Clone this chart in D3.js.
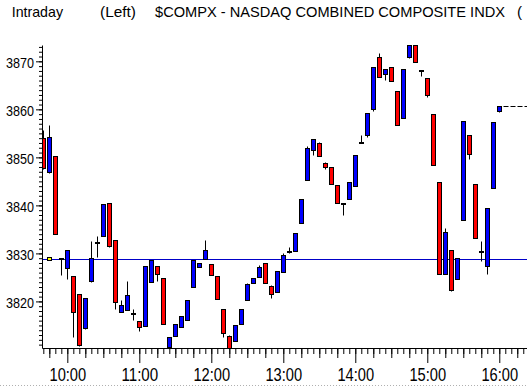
<!DOCTYPE html>
<html>
<head>
<meta charset="utf-8">
<script src="https://cdn.jsdelivr.net/npm/d3@7"></script>
<style>
	body { margin: 0; background: #fff; }
	svg { display: block; }
	text { font-family: "Liberation Sans", "DejaVu Sans", sans-serif; fill: #000; }
</style>
</head>
<body>
<script>
let times = [
	'9:40','9:45','9:50','9:55','10:00','10:05','10:10','10:15','10:20','10:25','10:30','10:35',
	'10:40','10:45','10:50','10:55','11:00','11:05','11:10','11:15','11:20','11:25','11:30','11:35',
	'11:40','11:45','11:50','11:55','12:00','12:05','12:10','12:15','12:20','12:25','12:30','12:35',
	'12:40','12:45','12:50','12:55','13:00','13:05','13:10','13:15','13:20','13:25','13:30','13:35',
	'13:40','13:45','13:50','13:55','14:00','14:05','14:10','14:15','14:20','14:25','14:30','14:35',
	'14:40','14:45','14:50','14:55','15:00','15:05','15:10','15:15','15:20','15:25','15:30','15:35',
	'15:40','15:45','15:50','15:55','16:00'
];
let open = [
	3854.0,3846.9,3850.3,3829.0,3826.9,3825.3,3821.5,3814.4,3824.2,3832.3,3833.6,3840.4,
	3832.7,3817.8,3818.2,3817.5,3816.0,3814.9,3824.1,3827.4,3824.8,3810.6,3812.8,3814.7,
	3816.1,3823.1,3827.1,3828.75,3827.8,3825.3,3818.5,3812.8,3811.8,3815.2,3820.3,3823.9,
	3825.1,3827.9,3823.2,3821.9,3826.2,3830.6,3830.6,3836.3,3845.3,3851.6,3852.9,3848.75,
	3847.9,3844.2,3840.6,3841.3,3844.0,3853.1,3854.7,3860.1,3871.0,3867.4,3868.75,3863.75,
	3858.2,3870.8,3873.3,3868.2,3866.5,3859.0,3844.8,3825.8,3830.8,3824.7,3837.0,3854.6,
	3844.4,3830.6,3827.3,3843.7,3859.6
];
let high = [
	3855.7,3856.7,3850.3,3829.0,3830.8,3825.3,3821.5,3820.8,3832.6,3833.6,3840.3,3840.4,
	3832.7,3820.4,3824.2,3818.5,3816.0,3827.4,3828.6,3827.4,3824.8,3812.5,3815.3,3816.9,
	3820.4,3828.6,3827.9,3832.8,3827.8,3825.3,3818.5,3813.0,3815.1,3818.4,3823.9,3824.8,
	3827.5,3827.9,3823.5,3826.3,3830.0,3831.25,3834.2,3841.25,3852.3,3853.8,3853.3,3849.0,
	3847.9,3844.2,3840.6,3844.8,3850.4,3854.6,3859.2,3868.75,3871.7,3868.5,3868.75,3863.75,
	3868.5,3873.3,3873.3,3868.2,3866.5,3859.0,3844.8,3835.3,3830.8,3829.0,3857.5,3854.6,
	3844.4,3832.6,3839.4,3857.3,3860.8
];
let low = [
	3847.5,3846.7,3834.0,3825.5,3824.6,3812.6,3810.8,3814.2,3824.0,3829.3,3833.6,3831.4,
	3818.5,3817.8,3818.2,3816.1,3813.9,3814.9,3824.1,3824.2,3815.2,3810.0,3812.8,3814.7,
	3816.1,3823.1,3827.1,3828.75,3825.6,3820.6,3812.6,3810.1,3811.8,3815.2,3820.3,3823.9,
	3825.1,3823.9,3820.8,3821.9,3826.2,3830.0,3830.6,3836.3,3845.3,3850.4,3850.3,3847.6,
	3844.5,3840.4,3838.05,3841.3,3844.0,3852.9,3854.2,3859.6,3866.7,3866.2,3865.8,3856.8,
	3858.2,3870.6,3869.8,3866.9,3862.6,3848.5,3825.7,3825.8,3822.1,3824.7,3837.0,3849.7,
	3833.2,3828.5,3825.7,3843.7,3859.4
];
let close = [
	3847.7,3854.2,3834.1,3829.0,3830.8,3817.8,3810.9,3820.8,3829.0,3832.3,3840.3,3831.6,
	3819.9,3819.2,3821.3,3817.5,3814.7,3827.4,3828.6,3825.8,3815.2,3812.5,3815.3,3816.9,
	3820.4,3828.6,3827.9,3830.7,3825.6,3820.6,3813.5,3810.1,3815.1,3818.4,3823.6,3824.8,
	3827.2,3823.9,3821.5,3826.3,3829.65,3830.6,3834.2,3841.25,3851.9,3853.8,3850.3,3847.9,
	3844.5,3840.4,3840.6,3844.8,3850.4,3853.1,3859.2,3868.75,3866.7,3868.5,3865.8,3856.8,
	3868.5,3873.3,3869.8,3868.2,3862.9,3848.5,3825.7,3834.4,3822.35,3829.0,3857.5,3850.8,
	3833.2,3830.6,3839.4,3857.3,3860.8
];
let prevClose = 3828.75;
let prevCloseMarkAt = '9:45';
let yTicks = [3820, 3830, 3840, 3850, 3860, 3870];
let xTicks = ['10:00', '11:00', '12:00', '13:00', '14:00', '15:00', '16:00'];
let titleParts = ['Intraday', '(Left)', '$COMPX - NASDAQ COMBINED COMPOSITE INDX', '('];

function toMin(t) {
	let p = t.split(':');
	return +p[0]*60 + +p[1];
}
function fmtMin(m) {
	return Math.floor(m/60) + ':' + d3.format('02')(m%60);
}

function renderChart() {
	let width = 527, height = 386;
	let svg = d3.select('body').append('svg')
		.attr('width', width)
		.attr('height', height);

	let x = d3.scaleLinear().domain([578.9, 983.1]).range([42, 527]);
	let y = d3.scaleLinear().domain([3810.3, 3873.4]).range([348, 45]);

	// title row
	let titleX = [11.7, 100, 155, 517];
	let titleW = [51.3, 36, 350, 0];
	svg.append('g').selectAll('text')
		.data(titleParts)
		.join('text')
		.attr('x', (d, i) => titleX[i])
		.attr('y', 16.7)
		.attr('font-size', 15)
		.each(function(d, i) {
			if (titleW[i]) d3.select(this).attr('textLength', titleW[i]).attr('lengthAdjust', 'spacingAndGlyphs');
		})
		.text(d => d);

	svg.append('clipPath').attr('id', 'plot')
		.append('rect').attr('x', 43).attr('y', 0).attr('width', width - 43).attr('height', 348);

	let plot = svg.append('g').attr('clip-path', 'url(#plot)');

	//previous close line
	let yp = Math.round(y(prevClose)) + 0.5;
	plot.append('line')
		.attr('x1', 42).attr('x2', width)
		.attr('y1', yp).attr('y2', yp)
		.attr('stroke', '#0000c8')
		.attr('stroke-width', 1);

	let cx = i => Math.floor(x(toMin(times[i]))) + 0.5;
	let py = v => Math.round(y(v)) + 0.5;

	let candles = plot.append('g').selectAll('g')
		.data(times)
		.join('g');
	candles.append('line')
		.attr('x1', (d, i) => cx(i)).attr('x2', (d, i) => cx(i))
		.attr('y1', (d, i) => py(high[i]))
		.attr('y2', (d, i) => py(low[i]))
		.attr('stroke', '#000');
	candles.append('rect')
		.attr('x', (d, i) => cx(i) - 2)
		.attr('width', 4)
		.attr('y', (d, i) => py(Math.max(open[i], close[i])))
		.attr('height', (d, i) => Math.max(1, py(Math.min(open[i], close[i])) - py(Math.max(open[i], close[i]))))
		.attr('fill', (d, i) => close[i] > open[i] ? '#0000ff' : (close[i] < open[i] ? '#ff0000' : '#000'))
		.attr('stroke', '#000')
		.attr('stroke-width', 1);

	// yellow mark for previous close
	let mi = times.indexOf(prevCloseMarkAt);
	plot.append('rect')
		.attr('x', cx(mi) - 2).attr('width', 4)
		.attr('y', yp - 2).attr('height', 3)
		.attr('fill', '#ffff00')
		.attr('stroke', '#000');

	// last price dashed
	let last = times.length - 1;
	svg.append('line')
		.attr('x1', cx(last) + 4).attr('x2', width)
		.attr('y1', py(close[last])).attr('y2', py(close[last]))
		.attr('stroke', '#000')
		.attr('stroke-dasharray', '5,2');

	// y axis
	svg.append('g')
		.attr('transform', 'translate(42,0)')
		.call(d3.axisLeft(y).tickValues(d3.range(3811, 3874)).tickSize(3).tickSizeOuter(0).tickFormat(''))
		.call(g => g.selectAll('line,path').attr('stroke', '#000'));
	let ya = svg.append('g')
		.attr('transform', 'translate(42,0)')
		.call(d3.axisLeft(y).tickValues(yTicks).tickSize(6).tickSizeOuter(0).tickPadding(2).tickFormat(d3.format('d')));
	ya.select('.domain').remove();
	ya.selectAll('line').attr('stroke', '#000');
	ya.selectAll('text')
		.attr('font-size', 15)
		.attr('font-family', null)
		.attr('dy', 6)
		.attr('textLength', 28)
		.attr('lengthAdjust', 'spacingAndGlyphs');

	// x axis
	let xMajor = xTicks.map(toMin);
	let xMinor = d3.range(580, 984, 5);
	let xMid = xMinor.filter(m => m % 15 == 0 && m % 60 != 0);
	svg.append('g')
		.attr('transform', 'translate(0,348)')
		.call(d3.axisBottom(x).tickValues(xMinor).tickSize(6).tickSizeOuter(0).tickFormat(''))
		.call(g => g.selectAll('line,path').attr('stroke', '#000'));
	let xm = svg.append('g')
		.attr('transform', 'translate(0,348)')
		.call(d3.axisBottom(x).tickValues(xMid).tickSize(10).tickFormat(''));
	xm.select('.domain').remove();
	xm.selectAll('line').attr('stroke', '#000');
	let xa = svg.append('g')
		.attr('transform', 'translate(0,348)')
		.call(d3.axisBottom(x).tickValues(xMajor).tickSize(15).tickFormat(fmtMin));
	xa.select('.domain').remove();
	xa.selectAll('line').attr('stroke', '#000');
	xa.selectAll('text')
		.attr('font-size', 18)
		.attr('font-family', null)
		.attr('y', 33)
		.attr('dy', 0)
		.attr('textLength', 36.7)
		.attr('lengthAdjust', 'spacingAndGlyphs');

	// dotted bottom edge
	svg.append('line')
		.attr('x1', 0).attr('x2', width)
		.attr('y1', 385.5).attr('y2', 385.5)
		.attr('stroke', '#b0b0b0')
		.attr('stroke-dasharray', '1,2');
}
renderChart();
</script>
</body>
</html>
